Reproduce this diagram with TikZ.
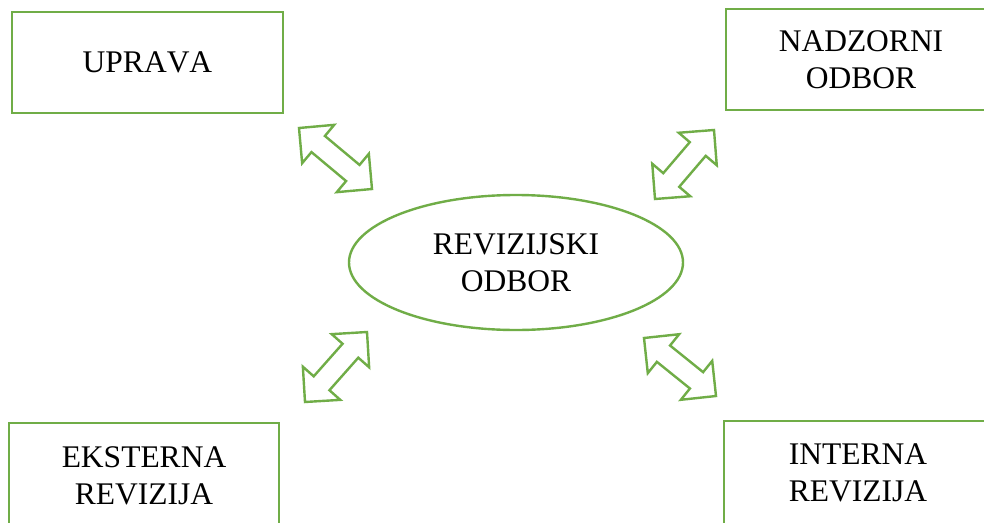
\documentclass[tikz,border=0pt]{standalone}
\usepackage{fontspec}
\setmainfont{Liberation Serif}[Kerning=Off]
\usetikzlibrary{calc,shapes.geometric}
\definecolor{ogreen}{RGB}{112,173,71}
\def\ah{25pt}
\def\aw{25pt}
\def\as{10.5pt}
\newcommand\dblarr[2]{%
  \draw[arrowline] (#1)
    -- ($(#1)!\ah!(#2)!\aw!90:(#2)$)
    -- ($(#1)!\ah!(#2)!\as!90:(#2)$)
    -- ($(#2)!\ah!(#1)!\as!-90:(#1)$)
    -- ($(#2)!\ah!(#1)!\aw!-90:(#1)$)
    -- (#2)
    -- ($(#2)!\ah!(#1)!\aw!90:(#1)$)
    -- ($(#2)!\ah!(#1)!\as!90:(#1)$)
    -- ($(#1)!\ah!(#2)!\as!-90:(#2)$)
    -- ($(#1)!\ah!(#2)!\aw!-90:(#2)$)
    -- cycle;}
\tikzset{
  box/.style={draw=ogreen, line width=2.6pt, rectangle, align=center, inner sep=0pt,
    font=\fontsize{31.5}{37.5}\selectfont},
  oval/.style={draw=ogreen, line width=2.4pt, ellipse, align=center, inner sep=0pt,
    font=\fontsize{31.5}{37.5}\selectfont},
  arrowline/.style={draw=ogreen, line width=2.4pt, line join=miter}
}
\begin{document}
\begin{tikzpicture}[x=1pt,y=-1pt]
\clip (0,0) rectangle (984,522);
\fill[white] (0,0) rectangle (984,522);
\node[box, minimum width=271pt, minimum height=101pt] (upr) at (147.5,62.5) {UPRAVA};
\node[box, minimum width=270pt, minimum height=101pt] (nad) at (861,59.5) {NADZORNI\\ODBOR};
\node[box, minimum width=270pt, minimum height=106pt] (eks) at (144,476) {EKSTERNA\\REVIZIJA};
\node[box, minimum width=268pt, minimum height=104pt] (int) at (858,473) {INTERNA\\REVIZIJA};
\node[oval, minimum width=334pt, minimum height=135pt] (rev) at (516,262.5) {REVIZIJSKI\\ODBOR};
\coordinate (a1s) at (299,128); \coordinate (a1e) at (372,189);
\coordinate (a2s) at (714,130); \coordinate (a2e) at (655,199);
\coordinate (a3s) at (367,332); \coordinate (a3e) at (305,402);
\coordinate (a4s) at (644,338); \coordinate (a4e) at (716,396);
\dblarr{a1s}{a1e}
\dblarr{a2s}{a2e}
\dblarr{a3s}{a3e}
\dblarr{a4s}{a4e}
\end{tikzpicture}
\end{document}
